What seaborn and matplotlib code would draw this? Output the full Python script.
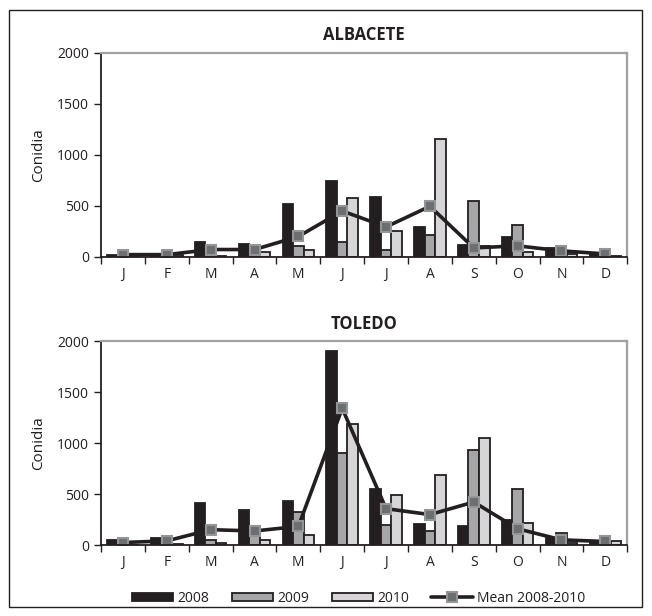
import pandas as pd
import seaborn as sns
import matplotlib.pyplot as plt
from matplotlib.patches import Patch, Rectangle
from matplotlib.lines import Line2D

# month categories (unique names for the categorical axis) and the letters shown
month_names = ['Jan', 'Feb', 'Mar', 'Apr', 'May', 'Jun',
               'Jul', 'Aug', 'Sep', 'Oct', 'Nov', 'Dec']
month_letters = ['J', 'F', 'M', 'A', 'M', 'J', 'J', 'A', 'S', 'O', 'N', 'D']
years = ['2008', '2009', '2010']

# Albacete
alb_2008 = [20, 15, 150, 130, 520, 745, 585, 291, 121, 196, 88, 29]
alb_2009 = [10, 10, 20, 34, 110, 147, 65, 212, 549, 317, 39, 5]
alb_2010 = [5, 20, 10, 52, 72, 580, 255, 1157, 108, 49, 26, 5]
alb_mean = [22, 22, 72, 72, 200, 450, 294, 496, 88, 108, 59, 29]

# Toledo
tol_2008 = [55, 68, 410, 345, 435, 1908, 552, 203, 187, 245, 74, 42]
tol_2009 = [10, 15, 48, 97, 329, 900, 197, 135, 930, 549, 119, 10]
tol_2010 = [5, 10, 26, 48, 97, 1192, 490, 687, 1050, 216, 26, 42]
tol_mean = [26, 42, 152, 139, 184, 1342, 358, 300, 423, 161, 52, 36]

bar_colors = {'2008': '#231f20', '2009': '#a6a6a8', '2010': '#d6d6d8'}
ink = '#231f20'

sns.set_style('ticks')
plt.rcParams['font.family'] = ['Open Sans', 'DejaVu Sans']
plt.rcParams['text.color'] = ink
plt.rcParams['axes.labelcolor'] = ink
plt.rcParams['xtick.color'] = ink
plt.rcParams['ytick.color'] = ink


def draw_panel(ax, title, v08, v09, v10, vmean):
    df = pd.DataFrame({
        'month': month_names * 3,
        'year': ['2008'] * 12 + ['2009'] * 12 + ['2010'] * 12,
        'conidia': v08 + v09 + v10,
    })
    sns.barplot(data=df, x='month', y='conidia', hue='year', hue_order=years,
                palette=bar_colors, edgecolor=ink, linewidth=1.3, width=0.72,
                saturation=1, ax=ax, legend=False)
    sns.pointplot(x=month_names, y=vmean, color=ink, markers='s', linestyles='-',
                  errorbar=None, ax=ax, linewidth=2.6, markersize=7,
                  markerfacecolor='#6d6e70', markeredgecolor='#939598',
                  markeredgewidth=1.5)

    ax.set_ylim(0, 2000)
    ax.set_yticks([0, 500, 1000, 1500, 2000])
    ax.set_xlim(-0.5, 11.5)
    ax.set_xticks(range(12))
    ax.set_xticklabels(month_letters)
    ax.set_xticks([i - 0.5 for i in range(13)], minor=True)
    ax.tick_params(axis='x', which='major', length=0, pad=7, labelsize=10)
    ax.tick_params(axis='x', which='minor', length=5, width=1, direction='out')
    ax.tick_params(axis='y', length=5, width=1, direction='out', labelsize=10)
    ax.set_xlabel('')
    ax.set_ylabel('Conidia', fontsize=11, labelpad=8)
    ax.set_title(title, fontsize=12, fontweight='bold', pad=9)

    for side in ['top', 'right']:
        ax.spines[side].set_color('#a0a0a2')
        ax.spines[side].set_linewidth(1.6)
    for side in ['left', 'bottom']:
        ax.spines[side].set_color(ink)
        ax.spines[side].set_linewidth(1.3)


fig = plt.figure(figsize=(6.52, 6.16), dpi=100)
ax1 = fig.add_axes([0.155, 0.583, 0.807, 0.331])
ax2 = fig.add_axes([0.155, 0.115, 0.807, 0.331])

draw_panel(ax1, 'ALBACETE', alb_2008, alb_2009, alb_2010, alb_mean)
draw_panel(ax2, 'TOLEDO', tol_2008, tol_2009, tol_2010, tol_mean)

handles = [Patch(facecolor=bar_colors[y], edgecolor=ink, linewidth=1.3) for y in years]
handles.append(Line2D([0], [0], color=ink, linewidth=2.6, marker='s', markersize=7,
                      markerfacecolor='#6d6e70', markeredgecolor='#939598',
                      markeredgewidth=1.5))
labels = years + ['Mean 2008-2010']
fig.legend(handles, labels, loc='center', bbox_to_anchor=(0.55, 0.029), ncol=4,
           frameon=False, fontsize=10, handlelength=3.0, handleheight=0.55,
           handletextpad=0.3, columnspacing=1.6, numpoints=1)

# thin frame around the whole figure
fig.add_artist(Rectangle((9 / 652, 9 / 616), 633 / 652, 597 / 616,
                         transform=fig.transFigure, fill=False,
                         edgecolor=ink, linewidth=1.0))

plt.savefig('out.png', dpi=100)
